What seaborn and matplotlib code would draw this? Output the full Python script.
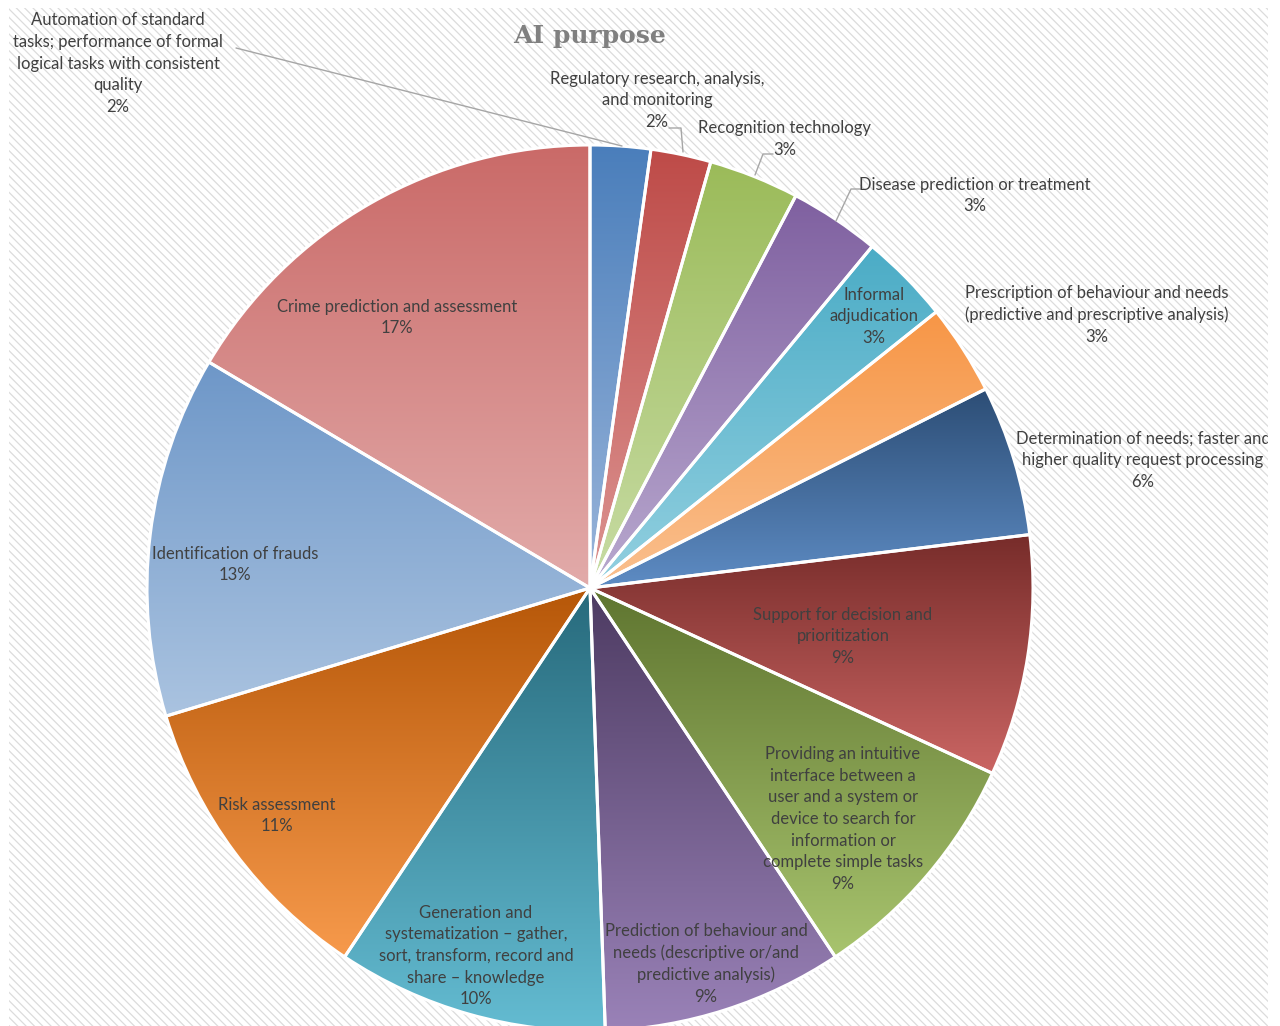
import numpy as np
import matplotlib
matplotlib.use("Agg")
import matplotlib.pyplot as plt
from matplotlib.lines import Line2D
from matplotlib.patches import Rectangle
import seaborn as sns

# ---------------- data ----------------
categories = [
    "Automation of standard\ntasks; performance of formal\nlogical tasks with consistent\nquality",
    "Regulatory research, analysis,\nand monitoring",
    "Recognition technology",
    "Disease prediction or treatment",
    "Informal\nadjudication",
    "Prescription of behaviour and needs\n(predictive and prescriptive analysis)",
    "Determination of needs; faster and\nhigher quality request processing",
    "Support for decision and\nprioritization",
    "Providing an intuitive\ninterface between a\nuser and a system or\ndevice to search for\ninformation or\ncomplete simple tasks",
    "Prediction of behaviour and\nneeds (descriptive or/and\npredictive analysis)",
    "Generation and\nsystematization \u2013 gather,\nsort, transform, record and\nshare \u2013 knowledge",
    "Risk assessment",
    "Identification of frauds",
    "Crime prediction and assessment",
]
shares = [2.2, 2.2, 3.3, 3.3, 3.3, 3.3, 5.5, 8.8, 8.8, 8.8, 9.9, 11.0, 13.2, 16.5]
pct_labels = ["2%", "2%", "3%", "3%", "3%", "3%", "6%", "9%", "9%", "9%", "10%", "11%", "13%", "17%"]

# gradient colours (top, bottom) per slice
top_colors = ["#4A7EBB", "#BE4B48", "#9BBB59", "#7F60A0", "#4BACC6", "#F79646",
              "#2C4D75", "#772C2A", "#5F7530", "#4D3B62", "#276A7C", "#B65708",
              "#6E97C8", "#CA6A68"]
bottom_colors = ["#9AB5DA", "#DC9492", "#C8DCA5", "#B9A9CF", "#93D0E0", "#FAC08F",
                 "#5E8CC4", "#CA6563", "#A8C46E", "#9A82B8", "#64BCD2", "#F79A4C",
                 "#AAC3E0", "#E2ABAA"]

# label centres in pixel coordinates (layout)
label_px = [(118, 63.5), (657, 100.5), (785, 139), (975, 195.5), (874, 316.5), (1097, 315),
            (1143, 460), (843, 636.5), (843, 819), (706, 964), (476, 956),
            (277, 815.5), (235, 564.5), (397, 317.5)]
leader_px = [
    [(236, 48), (622, 146)],
    [(669, 128), (681, 128), (683, 152)],
    [(773, 154), (763, 154), (755, 175)],
    [(860, 189), (851, 189), (836, 221)],
]
LINE_STEP = 21.7  # px between label lines

# ---------------- style ----------------
sns.set_theme(style="white")
plt.rcParams["font.family"] = ["Lato", "DejaVu Sans"]
plt.rcParams["hatch.linewidth"] = 0.9

W, H = 1280, 1026
fig = plt.figure(figsize=(W / 100, H / 100), dpi=100)
fig.patch.set_facecolor("white")


def fx(px):
    return px / W


def fy(py):
    return 1 - py / H


# hatched chart area
bg = fig.add_axes([fx(9), 0, (1268 - 9) / W, 1 - 8 / H])
bg.set_axis_off()
bg.add_patch(Rectangle((0, 0), 1, 1, transform=bg.transAxes, facecolor="white",
                       edgecolor="#dcdcdc", linewidth=0, hatch="\\\\\\\\"))
bg.set_zorder(0)

# pie axes: centre (590,588), radius 443 px
cx, cy, r = 590, 588, 443
ax = fig.add_axes([fx(cx - r), fy(cy + r), 2 * r / W, 2 * r / H])
ax.set_zorder(1)
ax.patch.set_alpha(0)

wedges, _ = ax.pie(shares, startangle=90, counterclock=False, radius=1,
                   wedgeprops=dict(edgecolor="white", linewidth=2.2))

for w, tc, bc in zip(wedges, top_colors, bottom_colors):
    verts = w.get_path().vertices
    xmin, ymin = verts.min(axis=0)
    xmax, ymax = verts.max(axis=0)
    cmap = sns.blend_palette([bc, tc], n_colors=256, as_cmap=True)
    grad = np.linspace(0, 1, 256).reshape(-1, 1)
    im = ax.imshow(grad, cmap=cmap, extent=[xmin, xmax, ymin, ymax], origin="lower",
                   aspect="auto", zorder=1, interpolation="bilinear")
    im.set_clip_path(w)
    w.set_facecolor("none")
    w.set_zorder(2)

ax.set_xlim(-1, 1)
ax.set_ylim(-1, 1)
ax.set_aspect("auto")
ax.set_axis_off()

# labels (one text per line)
for cat, pct, (px, py) in zip(categories, pct_labels, label_px):
    lines = cat.split("\n") + [pct]
    n = len(lines)
    for i, line in enumerate(lines):
        ly = py + (i - (n - 1) / 2) * LINE_STEP
        t = ax.text(fx(px), fy(ly), line, transform=fig.transFigure,
                    ha="center", va="center", fontsize=12, color="#404040", zorder=5)
        t.set_clip_on(True)
        t.set_clip_box(bg.bbox)

for pts in leader_px:
    xs = [fx(p[0]) for p in pts]
    ys = [fy(p[1]) for p in pts]
    ax.add_line(Line2D(xs, ys, transform=fig.transFigure, color="#a6a6a6",
                       linewidth=1.0, zorder=4, clip_on=False))

fig.text(fx(590), fy(36), "AI purpose", ha="center", va="center",
         family="DejaVu Serif", fontweight="bold", fontsize=18, color="#808080")

fig.savefig("out.png", dpi=100)
